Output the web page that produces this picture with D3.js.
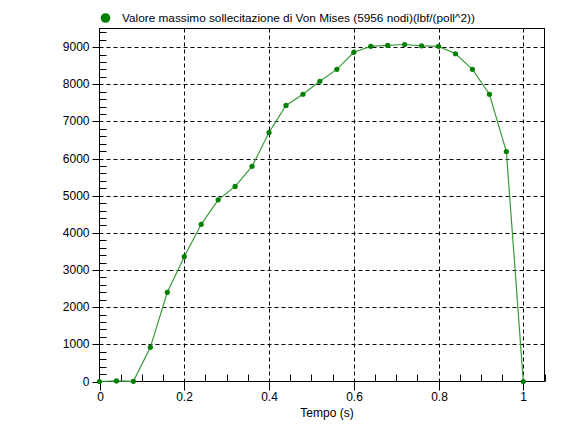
<!DOCTYPE html>
<html>
<head>
<meta charset="utf-8">
<script src="https://cdn.jsdelivr.net/npm/d3@7"></script>
<style>
  html, body { margin: 0; padding: 0; background: #fff; }
  svg { display: block; }
  text { font-family: "Liberation Sans", Arial, sans-serif; font-size: 12px; fill: #000; }
</style>
</head>
<body>
<svg id="chart" width="581" height="432"></svg>
<script>
// ---- data ----
const times = [0, 0.04, 0.08, 0.12, 0.16, 0.20, 0.24, 0.28, 0.32, 0.36, 0.40, 0.44, 0.48,
               0.52, 0.56, 0.60, 0.64, 0.68, 0.72, 0.76, 0.80, 0.84, 0.88, 0.92, 0.96, 1.00];
const vonMises = [0, 15, 5, 920, 2400, 3360, 4230, 4890, 5250, 5790, 6700, 7430, 7730,
                  8080, 8400, 8860, 9020, 9045, 9070, 9035, 9020, 8820, 8400, 7730, 6190, 0];
const seriesName = "Valore massimo sollecitazione di Von Mises (5956 nodi)(lbf/(poll^2))";
const xTickValues = [0, 0.2, 0.4, 0.6, 0.8, 1];
const yTickValues = [0, 1000, 2000, 3000, 4000, 5000, 6000, 7000, 8000, 9000];
const xLabel = "Tempo (s)";

(function () {
// ---- layout ----
const svg = d3.select("#chart");
const pL = 99.5, pR = 544.5, pT = 28.5, pB = 381.5;
const x = d3.scaleLinear().domain([0, 1.05]).range([pL, pR]);
const y = d3.scaleLinear().domain([0, 9500]).range([pB, pT]);

const lineColor = "#3a9a3a";
const dotColor = "#008000";

// grid
const grid = svg.append("g");
grid.selectAll("line.gx").data(xTickValues.filter(d => d > 0)).join("line")
  .attr("x1", d => Math.round(x(d)) + 0.5).attr("x2", d => Math.round(x(d)) + 0.5)
  .attr("y1", pT).attr("y2", pB)
  .attr("stroke", "#000").attr("stroke-dasharray", "4,3").attr("stroke-width", 1);
grid.selectAll("line.gy").data(yTickValues.filter(d => d > 0)).join("line")
  .attr("y1", d => Math.round(y(d)) + 0.5).attr("y2", d => Math.round(y(d)) + 0.5)
  .attr("x1", pL).attr("x2", pR)
  .attr("stroke", "#000").attr("stroke-dasharray", "4,3").attr("stroke-width", 1);

// minor ticks (inside)
const xMinor = d3.range(0, 1.0501, 0.05).filter(v => Math.abs(v * 5 - Math.round(v * 5)) > 1e-6);
const yMinor = d3.range(0, 9501, 200).filter(v => v % 1000 !== 0);
svg.append("g").selectAll("line").data(xMinor).join("line")
  .attr("x1", d => Math.round(x(d)) + 0.5).attr("x2", d => Math.round(x(d)) + 0.5)
  .attr("y1", pB).attr("y2", pB - 7).attr("stroke", "#000");
svg.append("g").selectAll("line").data(yMinor).join("line")
  .attr("y1", d => Math.round(y(d)) + 0.5).attr("y2", d => Math.round(y(d)) + 0.5)
  .attr("x1", pL).attr("x2", pL + 7).attr("stroke", "#000");

// axes (major ticks outside)
const xAxis = d3.axisBottom(x).tickValues(xTickValues).tickSize(9).tickPadding(2)
  .tickFormat(d => d3.format("~g")(d));
const yAxis = d3.axisLeft(y).tickValues(yTickValues).tickSize(7).tickPadding(3)
  .tickFormat(d3.format("d"));
const gx = svg.append("g").attr("transform", `translate(0,${pB})`).call(xAxis);
const gy = svg.append("g").attr("transform", `translate(${pL},0)`).call(yAxis);
[gx, gy].forEach(g => {
  g.select(".domain").remove();
  g.selectAll("line").attr("stroke", "#000");
  g.selectAll("text").attr("fill", "#000").style("font-size", "12px")
    .style("font-family", '"Liberation Sans", Arial, sans-serif');
});
gx.selectAll(".tick").attr("transform", d => `translate(${Math.round(x(d)) + 0.5},0)`);
gy.selectAll(".tick").attr("transform", d => `translate(0,${Math.round(y(d)) + 0.5})`);

// frame
svg.append("rect").attr("x", pL).attr("y", pT)
  .attr("width", pR - pL).attr("height", pB - pT)
  .attr("fill", "none").attr("stroke", "#000").attr("stroke-width", 1);

// axis title
svg.append("text").attr("x", 327).attr("y", 417).attr("text-anchor", "middle").text(xLabel);

// series
const pts = times.map((t, i) => [t, vonMises[i]]);
svg.append("path").datum(pts)
  .attr("d", d3.line().x(d => x(d[0])).y(d => y(d[1])))
  .attr("fill", "none").attr("stroke", lineColor).attr("stroke-width", 1.2);
svg.append("g").selectAll("circle").data(pts).join("circle")
  .attr("cx", d => x(d[0])).attr("cy", d => y(d[1])).attr("r", 2.6).attr("fill", dotColor);

// legend
svg.append("circle").attr("cx", 105.5).attr("cy", 18).attr("r", 4.8).attr("fill", dotColor);
svg.append("text").attr("x", 122).attr("y", 22).style("font-size", "11.8px").text(seriesName);
})();
</script>
</body>
</html>
